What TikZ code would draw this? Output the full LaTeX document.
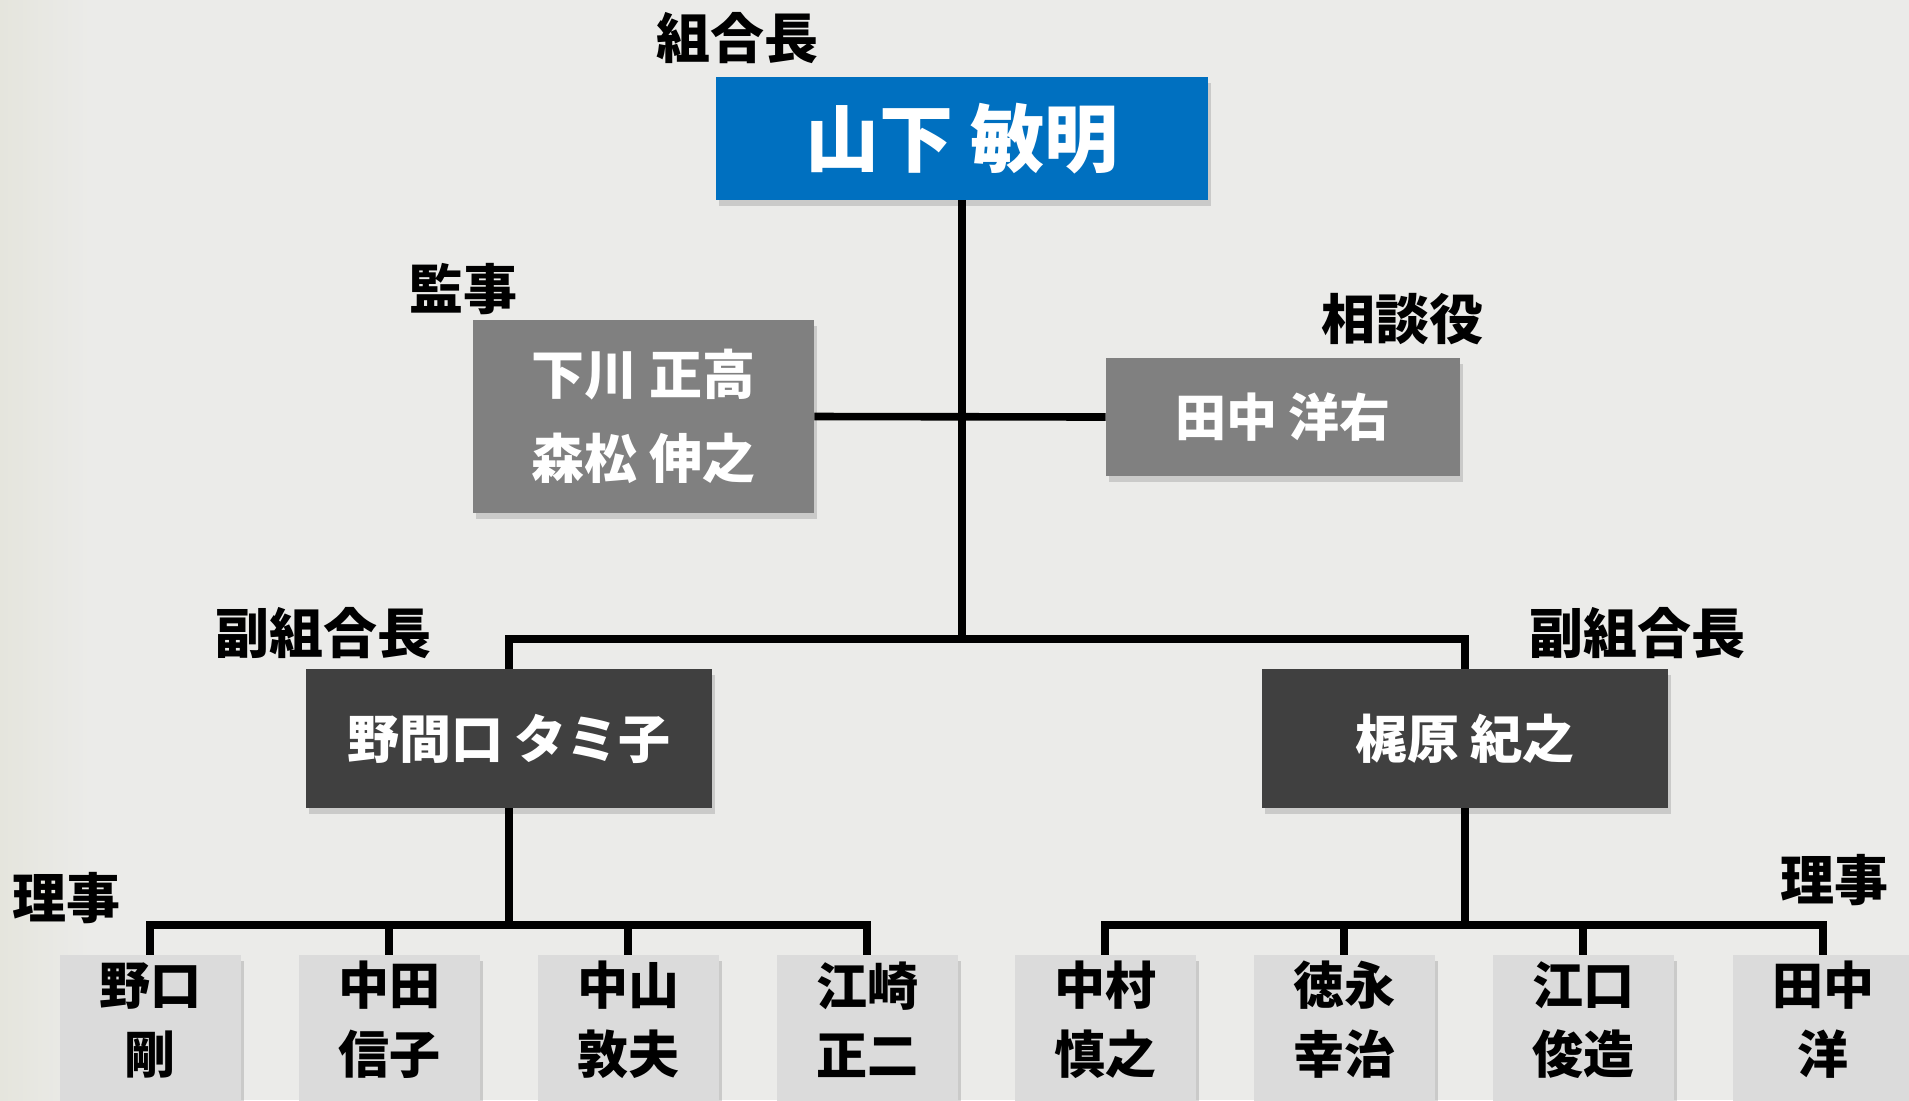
\documentclass[tikz,border=0pt]{standalone}
\usepackage{fontspec}
\setmainfont{Noto Sans CJK JP}
\usetikzlibrary{shadows}
\definecolor{cBlue}{RGB}{0,112,192}
\definecolor{cGray}{RGB}{128,128,128}
\definecolor{cDark}{RGB}{64,64,64}
\definecolor{cLight}{RGB}{219,219,219}
\definecolor{cPaper}{RGB}{235,235,233}
\definecolor{cEdge}{RGB}{229,229,221}
\tikzset{
    box/.style={rectangle, inner sep=0pt, align=center, font=\bfseries,
        drop shadow={opacity=0.3, shadow xshift=1.5pt, shadow yshift=-3pt}},
    chief/.style={box, fill=cBlue, text=white, minimum width=246pt, minimum height=61.5pt,
        font=\fontsize{37}{44}\bfseries},
    auditbox/.style={box, fill=cGray, text=white, minimum width=170.5pt, minimum height=96.5pt,
        font=\fontsize{26.5}{42}\bfseries},
    advbox/.style={box, fill=cGray, text=white, minimum width=177pt, minimum height=59pt,
        font=\fontsize{25.5}{30}\bfseries},
    vicebox/.style={box, fill=cDark, text=white, minimum width=203pt, minimum height=69.5pt,
        font=\fontsize{26}{30}\bfseries},
    memberbox/.style={box, fill=cLight, minimum width=90.5pt, minimum height=80pt},
    membertext/.style={align=center, inner sep=0pt, font=\fontsize{25.5}{34.5}\bfseries},
    role/.style={inner sep=0pt, font=\fontsize{27}{30}\bfseries},
    link/.style={line width=3.8pt}
}

\begin{document}
\begin{tikzpicture}[x=0.5pt, y=-0.5pt]
    % paper
    \fill[cPaper] (0,0) rectangle (1909,1100);
    \shade[left color=cEdge, right color=cPaper] (0,0) rectangle (90,1100);
    \useasboundingbox (0,0) rectangle (1909,1100);

    % boxes
    \node[chief] (chief) at (962, 138.5) {山下 敏明};
    \node[auditbox] (audit) at (643.5, 416.5) {下川 正高\\森松 伸之};
    \node[advbox] (adv) at (1283, 417) {田中 洋右};
    \node[vicebox] (vl) at (509, 738.5) {野間口 タミ子};
    \node[vicebox] (vr) at (1465, 738.5) {梶原 紀之};

    \node[memberbox] (m1) at (150, 1035) {};
    \node[memberbox] (m2) at (389, 1035) {};
    \node[memberbox] (m3) at (628, 1035) {};
    \node[memberbox] (m4) at (867, 1035) {};
    \node[memberbox] (m5) at (1105, 1035) {};
    \node[memberbox] (m6) at (1344, 1035) {};
    \node[memberbox] (m7) at (1583, 1035) {};
    \node[memberbox] (m8) at (1823, 1035) {};

    \node[membertext] (t1) at (150, 1020) {野口\\剛};
    \node[membertext] (t2) at (389, 1020) {中田\\信子};
    \node[membertext] (t3) at (628, 1020) {中山\\敦夫};
    \node[membertext] (t4) at (867, 1020) {江崎\\正二};
    \node[membertext] (t5) at (1105, 1020) {中村\\慎之};
    \node[membertext] (t6) at (1344, 1020) {徳永\\幸治};
    \node[membertext] (t7) at (1583, 1020) {江口\\俊造};
    \node[membertext] (t8) at (1823, 1020) {田中\\洋};

    % role labels
    \node[role] (lChief) at (737, 38) {組合長};
    \node[role] (lAudit) at (463, 289) {監事};
    \node[role] (lAdv) at (1402, 319) {相談役};
    \node[role] (lViceL) at (323, 633) {副組合長};
    \node[role] (lViceR) at (1637, 633) {副組合長};
    \node[role] (lBoardL) at (66, 898) {理事};
    \node[role] (lBoardR) at (1834, 880) {理事};

    % connectors
    \coordinate (hub) at (962, 639);
    \coordinate (barL) at (509, 925);
    \coordinate (barR) at (1465, 925);
    \draw[link] (chief.south) -- (hub);
    \draw[link] (audit.east) -- (adv.west);
    \draw[link] (vl.north) |- (hub) -| (vr.north);
    \draw[link] (vl.south) -- (barL);
    \draw[link] (vr.south) -- (barR);
    \draw[link] (m1.north) |- (barL) -| (m4.north);
    \draw[link] (m2.north) -- (m2.north |- barL);
    \draw[link] (m3.north) -- (m3.north |- barL);
    \draw[link] (m5.north) |- (barR) -| (m8.north);
    \draw[link] (m6.north) -- (m6.north |- barR);
    \draw[link] (m7.north) -- (m7.north |- barR);
\end{tikzpicture}
\end{document}
